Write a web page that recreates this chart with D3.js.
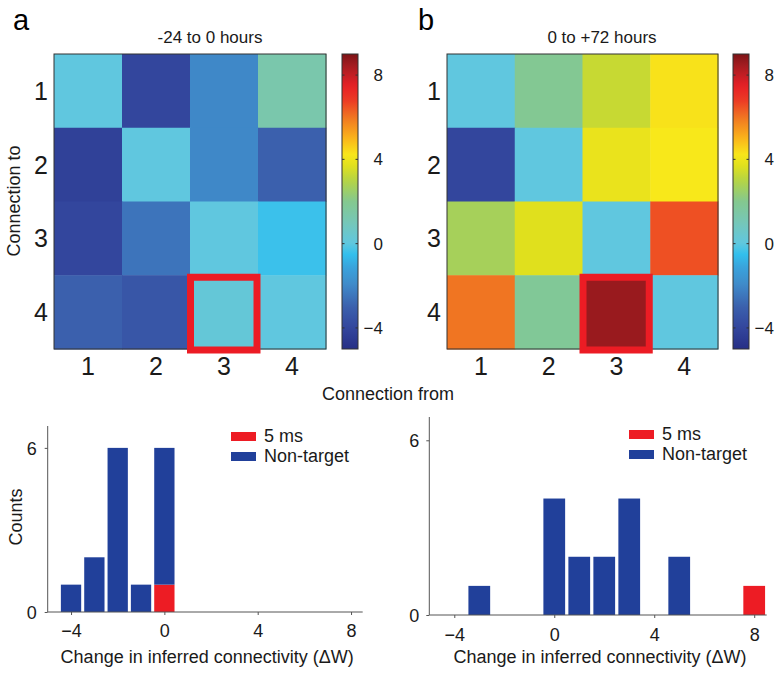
<!DOCTYPE html>
<html><head><meta charset="utf-8">
<script src="https://cdn.jsdelivr.net/npm/d3@7"></script>
<style>
body{margin:0;background:#fff;}
svg{display:block;font-family:"Liberation Sans",Arial,Helvetica,sans-serif;}
</style></head>
<body><svg id="c" width="780" height="673"></svg>
<script>
// ---------- data ----------
const nodes = [1, 2, 3, 4];
// rows = "Connection to", columns = "Connection from"
const heatA = [
  [0.0, -4.0, -2.0, 1.3],
  [-4.2, 0.0, -2.0, -3.0],
  [-4.0, -2.5, 0.0, -0.4],
  [-3.0, -3.4, 0.2, 0.0]
];
const heatB = [
  [0.0, 1.9, 3.3, 4.3],
  [-4.0, 0.0, 3.9, 4.2],
  [2.7, 3.7, 0.0, 6.5],
  [6.0, 1.8, 8.6, 0.0]
];
const titleA = "-24 to 0 hours";
const titleB = "0 to +72 hours";
const targetCell = {row: 4, col: 3};
const colorTicks = [-4, 0, 4, 8];
const colorDomain = [-5, 9];

const histA_bins = [-4, -3, -2, -1, 0];
const histA_nonTarget = [1, 2, 6, 1, 5];
const histA_target = [0, 0, 0, 0, 1];
const histB_bins = [-3, 0, 1, 2, 3, 5, 8];
const histB_nonTarget = [1, 4, 2, 2, 4, 2, 0];
const histB_target = [0, 0, 0, 0, 0, 0, 1];
const histXTicks = [-4, 0, 4, 8];
const histYTicks = [0, 6];
const legendLabels = ["5 ms", "Non-target"];

// ---------- colour map (printed jet) ----------
const jetStops = [
  [-5, "#262f86"], [-4, "#33469d"], [-3, "#3b60ad"], [-2, "#3f88c8"],
  [-1, "#39a8df"], [-0.5, "#32c0ee"], [0, "#60c7df"], [1, "#76c7b8"],
  [2, "#84c88f"], [3, "#b5d444"], [3.7, "#e0e01d"], [4.2, "#f8e81a"],
  [5, "#fbb41a"], [6, "#f07522"], [6.8, "#ec3a24"], [7.5, "#e61f26"],
  [8.5, "#a01c20"], [9, "#7d1416"]
];
const color = d3.scaleLinear()
  .domain(jetStops.map(d => d[0]))
  .range(jetStops.map(d => d[1]))
  .interpolate(d3.interpolateRgb)
  .clamp(true);

const svg = d3.select("#c");
const FONT = "Liberation Sans, Arial, sans-serif";
const txt = "#1a1a1a";
const fmt = d => d < 0 ? "\u2212" + Math.abs(d) : String(d);

// gradient
const defs = svg.append("defs");
const grad = defs.append("linearGradient").attr("id", "jet")
  .attr("x1", 0).attr("y1", 1).attr("x2", 0).attr("y2", 0);
d3.range(0, 1.0001, 0.02).forEach(t => {
  const v = colorDomain[0] + t * (colorDomain[1] - colorDomain[0]);
  grad.append("stop").attr("offset", t).attr("stop-color", color(v));
});

function heatmap(cfg) {
  const g = svg.append("g");
  const x = d3.scaleBand().domain(nodes).range([cfg.x0, cfg.x1]);
  const y = d3.scaleBand().domain(nodes).range([cfg.y0, cfg.y1]);
  const cells = [];
  cfg.data.forEach((row, i) => row.forEach((v, j) => cells.push({r: nodes[i], c: nodes[j], v})));
  g.selectAll("rect.cell").data(cells).join("rect")
    .attr("x", d => x(d.c)).attr("y", d => y(d.r))
    .attr("width", x.bandwidth() + 0.5).attr("height", y.bandwidth() + 0.5)
    .attr("fill", d => color(d.v));
  g.append("rect").attr("x", cfg.x0).attr("y", cfg.y0)
    .attr("width", cfg.x1 - cfg.x0).attr("height", cfg.y1 - cfg.y0)
    .attr("fill", "none").attr("stroke", "#333").attr("stroke-width", 1);
  // highlight
  g.append("rect")
    .attr("x", x(targetCell.col) + 0.5).attr("y", y(targetCell.row) + 2)
    .attr("width", x.bandwidth() - 1.5).attr("height", y.bandwidth() - 1)
    .attr("fill", "none").attr("stroke", "#ec1c24").attr("stroke-width", 7);
  // row labels
  g.selectAll("text.row").data(nodes).join("text")
    .attr("x", cfg.x0 - 6).attr("y", d => y(d) + y.bandwidth() / 2 + 9)
    .attr("text-anchor", "end").attr("font-size", 25).attr("fill", txt)
    .text(d => d);
  // column labels
  g.selectAll("text.col").data(nodes).join("text")
    .attr("x", d => x(d) + x.bandwidth() / 2).attr("y", cfg.y1 + 26)
    .attr("text-anchor", "middle").attr("font-size", 25).attr("fill", txt)
    .text(d => d);
  // title
  g.append("text").attr("x", cfg.titleX).attr("y", 43)
    .attr("text-anchor", "middle").attr("font-size", 17).attr("fill", txt)
    .text(cfg.title);
  // panel letter
  g.append("text").attr("x", cfg.letterX).attr("y", 30)
    .attr("font-size", 29).attr("fill", "#000").text(cfg.letter);
  // colorbar
  const cs = d3.scaleLinear().domain(colorDomain).range([cfg.y1, cfg.y0]);
  g.append("rect").attr("x", cfg.cbx).attr("y", cfg.y0)
    .attr("width", 16).attr("height", cfg.y1 - cfg.y0)
    .attr("fill", "url(#jet)").attr("stroke", "#333").attr("stroke-width", 1);
  colorTicks.forEach(t => {
    g.append("line").attr("x1", cfg.cbx).attr("x2", cfg.cbx + 2.5)
      .attr("y1", cs(t)).attr("y2", cs(t)).attr("stroke", "#333");
    g.append("line").attr("x1", cfg.cbx + 16).attr("x2", cfg.cbx + 13.5)
      .attr("y1", cs(t)).attr("y2", cs(t)).attr("stroke", "#333");
  });
  g.selectAll("text.cb").data(colorTicks).join("text")
    .attr("x", cfg.cbx + 41).attr("y", d => cs(d) + 6)
    .attr("text-anchor", "end").attr("font-size", 17).attr("fill", txt)
    .text(fmt);
}

heatmap({data: heatA, x0: 54, x1: 326, y0: 54, y1: 349, cbx: 342, title: titleA, titleX: 210, letter: "a", letterX: 13});
heatmap({data: heatB, x0: 447, x1: 718, y0: 54, y1: 349, cbx: 733, title: titleB, titleX: 602, letter: "b", letterX: 418});

// rotated / shared labels
svg.append("text").attr("transform", "translate(20,201) rotate(-90)")
  .attr("text-anchor", "middle").attr("font-size", 18).attr("fill", txt).text("Connection to");
svg.append("text").attr("x", 388).attr("y", 400)
  .attr("text-anchor", "middle").attr("font-size", 18).attr("fill", txt).text("Connection from");

function hist(cfg) {
  const g = svg.append("g");
  const x = d3.scaleLinear().domain([-5, 8.5]).range([cfg.xl, cfg.xr]);
  const y = d3.scaleLinear().domain([0, 6.8]).range([cfg.yb, cfg.yt]);
  const bw = (x(1) - x(0)) * 0.87;
  const data = cfg.bins.map((b, i) => ({b, n: cfg.non[i], t: cfg.tar[i]}));
  // target (red) at bottom, non-target stacked above
  g.selectAll("rect.t").data(data.filter(d => d.t > 0)).join("rect")
    .attr("x", d => x(d.b) - bw / 2).attr("width", bw)
    .attr("y", d => y(d.t)).attr("height", d => y(0) - y(d.t))
    .attr("fill", "#ed1c24");
  g.selectAll("rect.n").data(data.filter(d => d.n > 0)).join("rect")
    .attr("x", d => x(d.b) - bw / 2).attr("width", bw)
    .attr("y", d => y(d.t + d.n)).attr("height", d => y(d.t) - y(d.t + d.n))
    .attr("fill", "#21409a");
  // axes
  const ax = g.append("g").attr("transform", `translate(0,${cfg.yb})`)
    .call(d3.axisBottom(x).tickValues(histXTicks).tickSize(3).tickSizeOuter(0).tickFormat(fmt));
  ax.select(".domain").attr("stroke", "#555").attr("d", `M${cfg.xl},0H${cfg.xr}`);
  ax.selectAll(".tick line").attr("stroke", "#555");
  ax.selectAll(".tick text").attr("font-size", 18).attr("font-family", FONT)
    .attr("fill", txt).attr("dy", 0).attr("y", cfg.tickY);
  const ay = g.append("g").attr("transform", `translate(${cfg.xl},0)`)
    .call(d3.axisLeft(y).tickValues(histYTicks).tickSize(3).tickSizeOuter(0).tickFormat(fmt));
  ay.select(".domain").attr("stroke", "#555").attr("d", `M0,${cfg.yb}V${cfg.yt}`);
  ay.selectAll(".tick line").attr("stroke", "#555");
  ay.selectAll(".tick text").attr("font-size", 18).attr("font-family", FONT)
    .attr("fill", txt).attr("x", -cfg.yLabOff).attr("dy", "0.36em");
  g.append("text").attr("x", (cfg.xl + cfg.xr) / 2 + 2).attr("y", 663)
    .attr("text-anchor", "middle").attr("font-size", 18).attr("fill", txt)
    .text("Change in inferred connectivity (\u0394W)");
  // legend
  const cols = ["#ed1c24", "#21409a"];
  legendLabels.forEach((l, i) => {
    g.append("rect").attr("x", cfg.lx).attr("y", cfg.ly + i * 20)
      .attr("width", 25).attr("height", 9).attr("fill", cols[i]);
    g.append("text").attr("x", cfg.lx + 33).attr("y", cfg.ly + i * 20 + 10)
      .attr("font-size", 18).attr("fill", txt).text(l);
  });
}

hist({bins: histA_bins, non: histA_nonTarget, tar: histA_target,
  xl: 47.7, xr: 362.7, yb: 612, yt: 426, tickY: 25, yLabOff: 11, lx: 231, ly: 432});
hist({bins: histB_bins, non: histB_nonTarget, tar: histB_target,
  xl: 429.3, xr: 766.7, yb: 615, yt: 417, tickY: 26, yLabOff: 10, lx: 629, ly: 430});

svg.append("text").attr("transform", "translate(22,517) rotate(-90)")
  .attr("text-anchor", "middle").attr("font-size", 18).attr("fill", txt).text("Counts");
</script></body></html>
